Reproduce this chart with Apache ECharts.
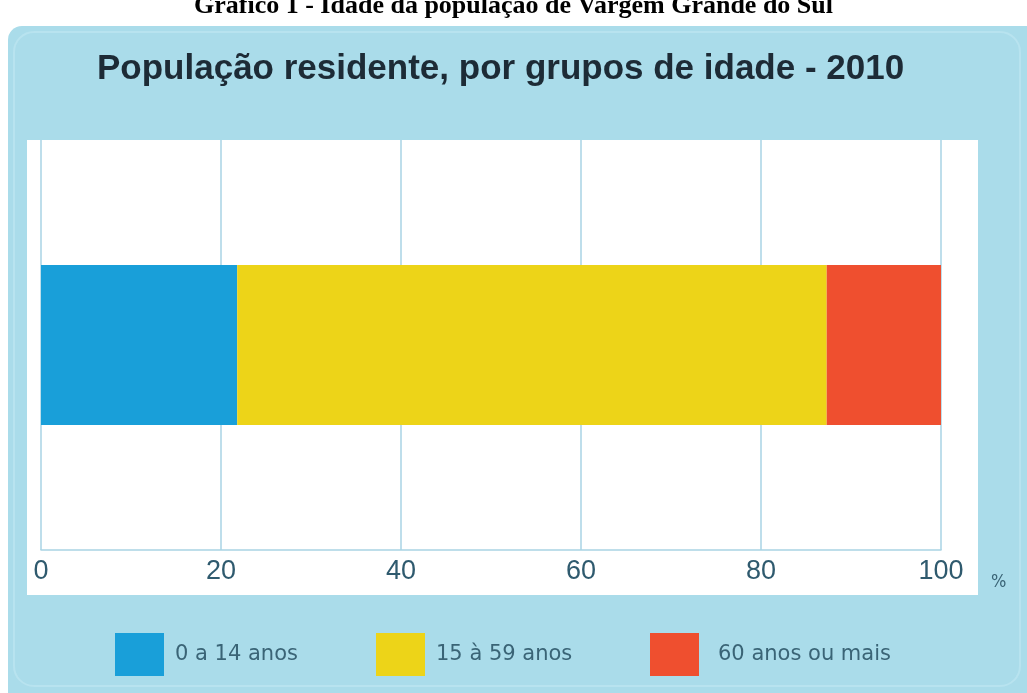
<!DOCTYPE html>
<html>
<head>
<meta charset="utf-8">
<script src="https://cdn.jsdelivr.net/npm/echarts@6/dist/echarts.min.js"></script>
<style>
  html, body { margin: 0; padding: 0; background: #fff; }
  #main { width: 1027px; height: 693px; }
</style>
</head>
<body>
<div id="main"></div>
<script>
var categories = ['2010'];
var groupNames = ['0 a 14 anos', '15 à 59 anos', '60 anos ou mais'];
var groupColors = ['#199fd9', '#edd418', '#ef4f2f'];
var valYoung = [21.8];
var valAdult = [65.5];
var valOld = [12.7];
var xTicks = [0, 20, 40, 60, 80, 100];

var chart = echarts.init(document.getElementById('main'));

var legendLeft = [115, 376, 650];
var legends = [];
for (var i = 0; i < groupNames.length; i++) {
  legends.push({
    data: [groupNames[i]],
    left: legendLeft[i],
    top: 633,
    padding: 0,
    icon: 'rect',
    itemWidth: 49,
    itemHeight: 43,
    selectedMode: false,
    textStyle: {
      fontFamily: 'DejaVu Sans',
      fontSize: 21,
      color: '#3a6476',
      padding: [4, 0, 0, i == 2 ? 14 : 6]
    }
  });
}

var seriesData = [valYoung, valAdult, valOld];
var series = [];
for (var j = 0; j < groupNames.length; j++) {
  series.push({
    name: groupNames[j],
    type: 'bar',
    stack: 'total',
    barWidth: 160,
    data: seriesData[j],
    itemStyle: { color: groupColors[j] }
  });
}

var option = {
  backgroundColor: '#ffffff',
  animation: false,
  color: groupColors,
  title: [
    {
      text: 'Gráfico 1 - Idade da população de Vargem Grande do Sul',
      left: 'center',
      top: -12,
      textStyle: {
        fontFamily: 'Liberation Serif, Times New Roman, serif',
        fontWeight: 'bold',
        fontSize: 26,
        color: '#000'
      }
    },
    {
      text: 'População residente, por grupos de idade - 2010',
      left: 92,
      top: 47,
      textStyle: {
        fontFamily: 'Liberation Sans, sans-serif',
        fontWeight: 'bold',
        fontSize: 35,
        color: '#1d2b36'
      }
    }
  ],
  graphic: [
    {
      type: 'rect',
      z: -10,
      shape: { x: 8, y: 26, width: 1040, height: 700, r: 14 },
      style: { fill: '#aadcea' }
    },
    {
      type: 'rect',
      z: -9,
      shape: { x: 14, y: 32, width: 1006, height: 654, r: 20 },
      style: { fill: 'none', stroke: '#b8e3ef', lineWidth: 2 }
    },
    {
      type: 'rect',
      z: -8,
      shape: { x: 27, y: 140, width: 951, height: 455 },
      style: { fill: '#ffffff' }
    }
  ],
  legend: legends,
  grid: {
    left: 41,
    right: 86,
    top: 140,
    bottom: 143
  },
  xAxis: {
    type: 'value',
    min: xTicks[0],
    max: xTicks[xTicks.length - 1],
    interval: 20,
    name: '%',
    nameLocation: 'end',
    nameGap: 50,
    nameTextStyle: {
      fontFamily: 'DejaVu Sans Condensed, DejaVu Sans',
      fontSize: 18,
      color: '#3a6476',
      align: 'left',
      verticalAlign: 'top',
      padding: [23, 0, 0, 0]
    },
    axisLine: { show: true, lineStyle: { color: '#a9d3e4', width: 1.5 } },
    axisTick: { show: false },
    axisLabel: {
      margin: 8,
      fontFamily: 'Liberation Sans, sans-serif',
      fontSize: 27,
      color: '#2f5a6e'
    },
    splitLine: { show: true, lineStyle: { color: '#a9d3e4', width: 1.5 } }
  },
  yAxis: {
    type: 'category',
    data: categories,
    axisLine: { show: false },
    axisTick: { show: false },
    axisLabel: { show: false }
  },
  series: series
};

chart.setOption(option);
</script>
</body>
</html>
